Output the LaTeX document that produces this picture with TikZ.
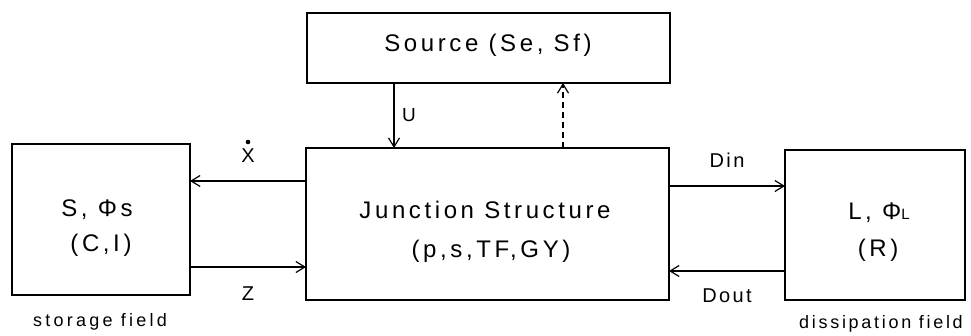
\documentclass[tikz,border=0pt]{standalone}
\usepackage{fontspec}
\setmainfont{Liberation Sans}
\usetikzlibrary{arrows.meta}
\begin{document}
\begin{tikzpicture}[x=1pt,y=-1pt,
  blk/.style={draw,line width=1.2pt},
  flow/.style={line width=1.2pt,-{Straight Barb[length=9pt,width=11pt,line width=1.2pt]}},
  lbl/.style={font=\fontsize{24}{28}\selectfont\addfontfeatures{LetterSpace=15},inner sep=0pt},
  sig/.style={font=\fontsize{20}{24}\selectfont\addfontfeatures{LetterSpace=12},inner sep=0pt},
  fieldlbl/.style={font=\fontsize{18}{21}\selectfont\addfontfeatures{LetterSpace=18},inner sep=0pt}]
\useasboundingbox (0,0) rectangle (971,335);
% blocks
\draw[blk] (12,144) rectangle (190,295);
\draw[blk] (306,148) rectangle (669,300);
\draw[blk] (307,13) rectangle (670,83);
\draw[blk] (785,150) rectangle (965,300);
\coordinate (stoR1) at (190,181); \coordinate (junL1) at (306,181);
\coordinate (stoR2) at (190,267); \coordinate (junL2) at (306,267);
\coordinate (junR1) at (669,186); \coordinate (disL1) at (785,186);
\coordinate (junR2) at (669,271); \coordinate (disL2) at (785,271);
\coordinate (srcB1) at (394,83);  \coordinate (junT1) at (394,148);
\coordinate (srcB2) at (563,83);  \coordinate (junT2) at (563,148);
% texts inside the blocks
\node[lbl] (src) at (488,45) {Source (Se, Sf)};
\node[lbl] (jun1) at (485,210) {Junction Structure};
\node[lbl] (jun2) at (491,251) {(p,s,TF,GY)};
\node[lbl] (sto1) at (97,210) {S, Φs};
\node[lbl] (sto2) at (101,245) {(C,I)};
\node[lbl] (dis1) at (879,213) {L, Φ{\fontsize{15}{18}\selectfont L}};
\node[lbl] (dis2) at (878,250) {(R)};
% signal names
\node[sig] (xd) at (248,156) {X};
\fill (248,142) circle (2.3);
\node[sig] (z) at (248,294) {Z};
\node[sig] (din) at (727,160) {Din};
\node[sig] (dout) at (727,296) {Dout};
\node[sig,font=\fontsize{19}{22}\selectfont] (u) at (409,115) {U};
% field captions
\node[fieldlbl] (stf) at (100,322) {storage field};
\node[fieldlbl,font=\fontsize{18}{21}\selectfont\addfontfeatures{LetterSpace=15}] (dsf) at (881,324) {dissipation field};
% connectors
\draw[flow] (junL1) -- (stoR1);
\draw[flow] (stoR2) -- (junL2);
\draw[flow] (junR1) -- (disL1);
\draw[flow] (disL2) -- (junR2);
\draw[flow] (srcB1) -- (junT1);
\draw[flow,dash pattern=on 6pt off 4pt] (junT2) -- (srcB2);
\end{tikzpicture}
\end{document}
